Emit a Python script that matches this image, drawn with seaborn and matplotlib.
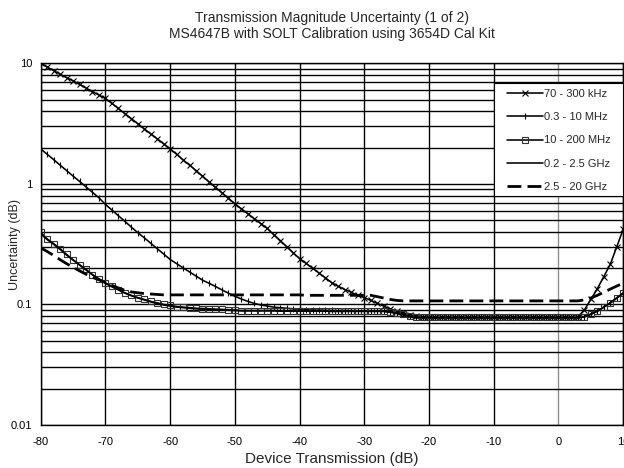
import numpy as np
import pandas as pd
import matplotlib
matplotlib.use("Agg")
import matplotlib.pyplot as plt
import seaborn as sns
from matplotlib.patches import Rectangle
from matplotlib.ticker import LogLocator, FixedLocator, FixedFormatter, NullFormatter

# ---------------- data ----------------
transmission_db = list(range(-80, 11))

unc_70_300khz = [
    10.0, 9.33, 8.71, 8.13, 7.59, 7.16, 6.68, 6.24, 5.82, 5.46,
    5.11, 4.65, 4.22, 3.83, 3.48, 3.16, 2.86, 2.60, 2.37, 2.15,
    1.95, 1.76, 1.58, 1.43, 1.29, 1.16, 1.04, 0.938, 0.843, 0.760,
    0.684, 0.622, 0.566, 0.515, 0.469, 0.427, 0.380, 0.339, 0.302, 0.269,
    0.240, 0.219, 0.200, 0.182, 0.166, 0.151, 0.141, 0.133, 0.126, 0.119,
    0.114, 0.108, 0.102, 0.097, 0.092, 0.088, 0.085, 0.082, 0.080, 0.079,
    0.078,
    0.078, 0.078, 0.078, 0.078, 0.078, 0.078, 0.078, 0.078, 0.078, 0.078,
    0.078, 0.078, 0.078, 0.078, 0.078, 0.078, 0.078, 0.078, 0.078, 0.078,
    0.078, 0.078,
    0.079, 0.090, 0.110, 0.135, 0.170, 0.215, 0.300, 0.420,
]

unc_03_10mhz = [
    1.95, 1.76, 1.59, 1.43, 1.29, 1.16, 1.05, 0.944, 0.851, 0.767,
    0.676, 0.607, 0.545, 0.489, 0.438, 0.394, 0.357, 0.322, 0.290, 0.262,
    0.236, 0.218, 0.201, 0.186, 0.172, 0.159, 0.150, 0.141, 0.132, 0.124,
    0.117, 0.111, 0.106, 0.102, 0.099, 0.097, 0.095, 0.094, 0.093, 0.092,
    0.091, 0.0905, 0.090, 0.0897, 0.0894, 0.0891, 0.089, 0.089, 0.0888, 0.0885,
    0.0883, 0.088, 0.088, 0.088, 0.087, 0.085, 0.083, 0.080, 0.078,
    0.078, 0.078, 0.078, 0.078, 0.078, 0.078, 0.078, 0.078, 0.078, 0.078,
    0.078, 0.078, 0.078, 0.078, 0.078, 0.078, 0.078, 0.078, 0.078, 0.078,
    0.078, 0.078, 0.078, 0.078, 0.078,
    0.079, 0.083, 0.088, 0.095, 0.103, 0.113, 0.124,
]

unc_10_200mhz = [
    0.396, 0.350, 0.320, 0.290, 0.260, 0.235, 0.214, 0.195, 0.177, 0.163,
    0.151, 0.141, 0.133, 0.125, 0.119, 0.114, 0.110, 0.106, 0.103, 0.100,
    0.098, 0.096, 0.095, 0.094, 0.093, 0.0925, 0.092, 0.0915, 0.091, 0.0905,
    0.090,
    0.089, 0.089, 0.089, 0.089, 0.089, 0.089,
    0.0885, 0.0885, 0.0885, 0.0885, 0.0885, 0.0885, 0.0885, 0.0885,
    0.088, 0.088, 0.088, 0.088, 0.088, 0.088, 0.088, 0.088, 0.088,
    0.087, 0.085, 0.083, 0.080, 0.078,
    0.078, 0.078, 0.078, 0.078, 0.078, 0.078, 0.078, 0.078, 0.078, 0.078,
    0.078, 0.078, 0.078, 0.078, 0.078, 0.078, 0.078, 0.078, 0.078, 0.078,
    0.078, 0.078, 0.078, 0.078, 0.078,
    0.079, 0.083, 0.088, 0.095, 0.103, 0.113, 0.124,
]

unc_02_25ghz = [
    0.385, 0.345, 0.315, 0.286, 0.257, 0.233, 0.212, 0.193, 0.176, 0.162,
    0.150, 0.140, 0.132, 0.124, 0.118, 0.113, 0.109, 0.105, 0.102, 0.099,
    0.097, 0.095, 0.094, 0.093, 0.092, 0.0915, 0.091, 0.0905, 0.090, 0.0895,
    0.089,
    0.0885, 0.0885, 0.0885, 0.0885, 0.0885, 0.0885,
    0.088, 0.088, 0.088, 0.088, 0.088, 0.088, 0.088, 0.088,
    0.0875, 0.0875, 0.0875, 0.0875, 0.0875, 0.0875, 0.0875, 0.0875, 0.0875,
    0.086, 0.084, 0.082, 0.079, 0.0775,
    0.0775, 0.0775, 0.0775, 0.0775, 0.0775, 0.0775, 0.0775, 0.0775, 0.0775, 0.0775,
    0.0775, 0.0775, 0.0775, 0.0775, 0.0775, 0.0775, 0.0775, 0.0775, 0.0775, 0.0775,
    0.0775, 0.0775, 0.0775, 0.0775, 0.0775,
    0.079, 0.083, 0.088, 0.095, 0.103, 0.113, 0.124,
]

unc_25_20ghz = [
    0.295, 0.275, 0.255, 0.235, 0.218, 0.203, 0.190, 0.178, 0.168, 0.160,
    0.152, 0.144, 0.137, 0.131, 0.127, 0.125, 0.123, 0.122, 0.121,
    0.120, 0.120, 0.120, 0.120, 0.120, 0.120, 0.120, 0.120, 0.120, 0.120,
    0.120, 0.120, 0.120, 0.120, 0.120, 0.120, 0.120, 0.120, 0.120, 0.120,
    0.120, 0.120,
    0.119, 0.119, 0.119, 0.119, 0.119, 0.119, 0.119, 0.119, 0.119, 0.119, 0.119,
    0.116, 0.113, 0.110, 0.108,
    0.107, 0.107, 0.107, 0.107, 0.107, 0.107, 0.107, 0.107, 0.107, 0.107,
    0.107, 0.107, 0.107, 0.107, 0.107, 0.107, 0.107, 0.107, 0.107, 0.107,
    0.107, 0.107, 0.107, 0.107, 0.107, 0.107, 0.107, 0.107,
    0.109, 0.113, 0.119, 0.126, 0.134, 0.142, 0.150,
]

series_labels = ["70 - 300 kHz", "0.3 - 10 MHz", "10 - 200 MHz",
                 "0.2 - 2.5 GHz", "2.5 - 20 GHz"]
x_ticks = [-80, -70, -60, -50, -40, -30, -20, -10, 0, 10]
y_ticks = [0.01, 0.1, 1, 10]
y_tick_labels = ["0.01", "0.1", "1", "10"]

# ---------------- style ----------------
sns.set_style("white")
plt.rcParams["font.family"] = ["Liberation Sans", "DejaVu Sans"]

fig = plt.figure(figsize=(6.24, 4.68), dpi=100)
ax = fig.add_axes([0.0652, 0.0919, 0.9335, 0.7728])

ax.set_yscale("log")
ax.set_xlim(-80, 10)
ax.set_ylim(0.01, 10)
ax.set_axisbelow(True)

ax.yaxis.set_major_locator(FixedLocator(y_ticks))
ax.yaxis.set_major_formatter(FixedFormatter(y_tick_labels))
ax.yaxis.set_minor_locator(LogLocator(base=10, subs=np.arange(2, 10)))
ax.yaxis.set_minor_formatter(NullFormatter())
ax.set_xticks(x_ticks)
ax.set_xticklabels([str(t) for t in x_ticks])

ax.grid(which="major", axis="y", color="black", linewidth=1.0)
ax.grid(which="minor", axis="y", color="black", linewidth=1.0)
ax.grid(which="major", axis="x", color="black", linewidth=1.0)
for gl, t in zip(ax.get_xgridlines(), x_ticks):
    if t == 0:
        gl.set_color("#909090")

x = np.array(transmission_db)
styles = [
    dict(marker="x", markersize=4.5, markeredgewidth=0.8,
         markeredgecolor="black", linestyle="-"),
    dict(marker="|", markersize=4, markeredgewidth=0.8,
         markeredgecolor="black", linestyle="-"),
    dict(marker="s", markersize=4.3, markeredgewidth=0.8, markerfacecolor="none",
         markeredgecolor="#333333", linestyle="-"),
    dict(linestyle="-"),
    dict(linestyle=(0, (5, 2.2)), linewidth=2.0),
]
series = [unc_70_300khz, unc_03_10mhz, unc_10_200mhz, unc_02_25ghz, unc_25_20ghz]

for vals, lab, st in zip(series, series_labels, styles):
    st = dict(st)
    lw = st.pop("linewidth", 1.15)
    sns.lineplot(x=x, y=np.array(vals), ax=ax, color="black", linewidth=lw,
                 label=lab, **st)

for s in ax.spines.values():
    s.set_color("black")
    s.set_linewidth(1.0)

ax.tick_params(axis="both", which="major", direction="out", length=3,
               width=0.8, color="black", labelsize=8)
ax.tick_params(axis="x", which="major", pad=6)
ax.tick_params(axis="y", which="major", pad=3)
ax.tick_params(axis="y", which="minor", length=0)
ax.tick_params(axis="both", colors="black")

ax.set_xlabel("Device Transmission (dB)", fontsize=11, labelpad=3)
ax.set_ylabel("Uncertainty (dB)", fontsize=9)
ax.yaxis.set_label_coords(-0.033, 0.5)
ax.set_title("Transmission Magnitude Uncertainty (1 of 2)\n"
             "MS4647B with SOLT Calibration using 3654D Cal Kit",
             fontsize=10, pad=18, linespacing=1.2)

# legend box drawn separately so its padding matches the reference
box = Rectangle((0.778, 0.634), 0.222, 0.312, transform=ax.transAxes,
                facecolor="white", edgecolor="black", linewidth=0.8,
                zorder=4.8, clip_on=False)
ax.add_patch(box)
leg = ax.legend(loc="upper left", bbox_to_anchor=(0.800, 0.929), fontsize=8,
                frameon=False, handlelength=3.3, handletextpad=0.05,
                labelspacing=1.19, borderpad=0.0, borderaxespad=0.0)
leg.set_zorder(5)

fig.savefig("out.png", dpi=100)
